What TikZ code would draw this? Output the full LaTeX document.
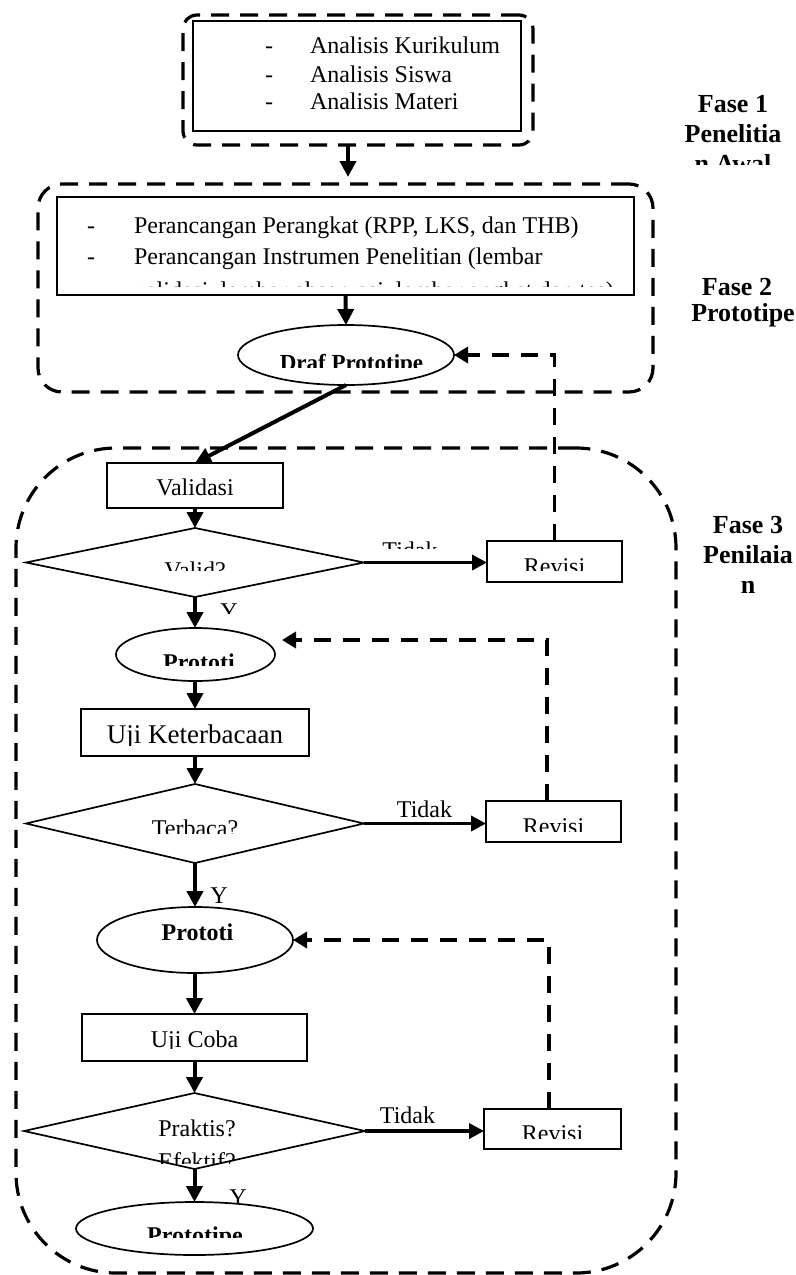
\documentclass[tikz,border=0pt]{standalone}
\usepackage{fontspec}
\setmainfont{Liberation Serif}
\usetikzlibrary{shapes.geometric,arrows.meta}
\begin{document}
\begin{tikzpicture}[x=0.5pt,y=-0.5pt,
  every node/.style={inner sep=0pt, outer sep=0pt},
  box/.style={draw, line width=0.85pt, fill=white},
  ell/.style={ellipse, draw, line width=0.85pt, fill=white},
  dec/.style={diamond, draw, line width=0.85pt, fill=white},
  phase/.style={draw, line width=1.6pt, dash pattern=on 9pt off 5.5pt},
  arr/.style={line width=2pt, -{Triangle[length=8pt,width=8pt]}},
  arrh/.style={line width=1.8pt, -{Triangle[length=7.5pt,width=7.5pt]}},
  fb/.style={line width=1.8pt, dash pattern=on 8.5pt off 6pt, -{Triangle[length=7pt,width=8pt]}},
  t12/.style={anchor=base, font=\fontsize{12}{14}\selectfont},
  b12/.style={anchor=base, font=\bfseries\fontsize{12}{14}\selectfont},
  lbl/.style={anchor=base, font=\bfseries\fontsize{13}{15}\selectfont}]
\fill[white] (0,0) rectangle (796,1275);
\useasboundingbox (0,0) rectangle (796,1275);

% phase frames
\node[phase, rounded corners=7pt, minimum width=175pt, minimum height=65pt] (ph1) at (358,80) {};
\node[phase, rounded corners=12pt, minimum width=307.5pt, minimum height=104pt] (ph2) at (345.5,288) {};
\node[phase, rounded corners=50pt, minimum width=330pt, minimum height=412.5pt] (ph3) at (346,860.5) {};

% phase 1
\node[box, minimum width=164pt, minimum height=55pt] (f1in) at (357,76) {};
\node[t12, anchor=base west] (d11) at (265,53) {-};
\node[t12, anchor=base west] (t11) at (310,53) {Analisis Kurikulum};
\node[t12, anchor=base west] (d12) at (265,82) {-};
\node[t12, anchor=base west] (t12a) at (310,82) {Analisis Siswa};
\node[t12, anchor=base west] (d13) at (265,109) {-};
\node[t12, anchor=base west] (t13) at (310,109) {Analisis Materi};
\coordinate (a1end) at (348,177);
\draw[arr] (ph1.south -| a1end) -- (a1end);

% phase 2
\node[box, minimum width=288.5pt, minimum height=49pt] (f2in) at (345.5,246) {};
\node[t12, anchor=base west] (d21) at (87,233) {-};
\node[t12, anchor=base west] (t21) at (134,233) {Perancangan Perangkat (RPP, LKS, dan THB)};
\node[t12, anchor=base west] (d22) at (87,264) {-};
\node[t12, anchor=base west] (t22) at (134,264) {Perancangan Instrumen Penelitian (lembar};
\begin{scope}
\clip (57,270) rectangle (634,286.5);
\node[t12, anchor=base west] (t23) at (134,298) {validasi, lembar observasi, lembar angket dan tes)};
\end{scope}
\node[ell, minimum width=108pt, minimum height=30pt] (draf) at (346,355) {};
\begin{scope}
\clip (238,330) rectangle (454,367);
\node[anchor=base, font=\bfseries\fontsize{11.5}{14}\selectfont] (tdraf) at (351.5,370) {Draf Prototipe};
\end{scope}
\draw[arr] (f2in.south) -- (draf.north);

% phase 3
\node[box, minimum width=88pt, minimum height=22.5pt] (val) at (195,485.5) {};
\node[t12] (tval) at (195,495) {Validasi};
\draw[arr] (draf.south) -- (val.north);

\node[dec, minimum width=169pt, minimum height=34.5pt] (d1) at (195,562.5) {};
\begin{scope}
\clip (25,540) rectangle (363,570);
\node[t12] (tv1) at (195,578) {Valid?};
\end{scope}
\draw[arr] (val.south) -- (d1.north);
\node[box, minimum width=67.5pt, minimum height=20.5pt] (rev1) at (554.5,561.5) {};
\begin{scope}
\clip (487,541) rectangle (622,570);
\node[t12] (trev1) at (554.5,574) {Revisi};
\end{scope}
\draw[arrh] (d1.east) -- (d1.east -| rev1.west);
\begin{scope}
\clip (370,530) rectangle (450,548.5);
\node[t12] (tt1) at (410,558) {Tidak};
\end{scope}
\begin{scope}
\clip (210,595) rectangle (250,613);
\node[t12] (ty1) at (229,619) {Y};
\end{scope}

\node[ell, minimum width=79.5pt, minimum height=26.5pt] (p1) at (195.5,654.5) {};
\begin{scope}
\clip (117,640) rectangle (276,665);
\node[b12] (tp1) at (199,670) {Prototi};
\end{scope}
\draw[arr] (d1.south) -- (d1.south |- p1.north);

\node[box, minimum width=114pt, minimum height=23.5pt] (uk) at (195,732.5) {};
\begin{scope}
\clip (81,709) rectangle (309,745.5);
\node[anchor=base, font=\fontsize{13.5}{16}\selectfont] (tuk) at (195,743) {Uji Keterbacaan};
\end{scope}
\draw[arr] (p1.south -| uk.north) -- (uk.north);

\node[dec, minimum width=169pt, minimum height=39.5pt] (d2) at (195,823.5) {};
\begin{scope}
\clip (25,800) rectangle (363,833);
\node[t12] (tv2) at (195,836) {Terbaca?};
\end{scope}
\draw[arr] (uk.south) -- (d2.north);
\node[box, minimum width=67.5pt, minimum height=20.5pt] (rev2) at (553.5,821.5) {};
\begin{scope}
\clip (486,801) rectangle (621,831);
\node[t12] (trev2) at (553.5,834) {Revisi};
\end{scope}
\draw[arrh] (d2.east) -- (d2.east -| rev2.west);
\node[t12] (tt2) at (424.5,817) {Tidak};
\node[t12] (ty2) at (219,903) {Y};

\node[ell, minimum width=98pt, minimum height=33pt] (p2) at (195,940) {};
\node[b12] (tp2) at (197.5,940) {Prototi};
\draw[arr] (d2.south) -- (p2.north);

\node[box, minimum width=112.5pt, minimum height=23.5pt] (uc) at (194.5,1037.5) {};
\begin{scope}
\clip (81,1014) rectangle (306,1048.5);
\node[t12] (tuc) at (194.5,1047) {Uji Coba};
\end{scope}
\draw[arr] (p2.south -| uc.north) -- (uc.north);

\node[dec, minimum width=170.5pt, minimum height=38pt] (d3) at (194.5,1131) {};
\node[t12] (tv3) at (197,1136) {Praktis?};
\begin{scope}
\clip (21,1140) rectangle (362,1163);
\node[t12] (tv3b) at (197,1169) {Efektif?};
\end{scope}
\draw[arr] (uc.south) -- (d3.north);
\node[box, minimum width=68.5pt, minimum height=20pt] (rev3) at (552.5,1129) {};
\begin{scope}
\clip (484,1109) rectangle (621,1138);
\node[t12] (trev3) at (552.5,1141) {Revisi};
\end{scope}
\draw[arrh] (d3.east) -- (d3.east -| rev3.west);
\node[t12] (tt3) at (407.5,1123) {Tidak};
\node[t12] (ty3) at (238,1205) {Y};

\node[ell, minimum width=118.5pt, minimum height=26.5pt] (p3) at (194.5,1228.5) {};
\begin{scope}
\clip (76,1210) rectangle (313,1237);
\node[b12] (tp3) at (195,1243) {Prototipe};
\end{scope}
\draw[arr] (d3.south) -- (d3.south |- p3.north);

% feedback loops
\draw[fb] (rev1.north) |- (draf.east);
\coordinate (r2top) at (547,801);
\coordinate (t1) at (282,640);
\draw[fb] (r2top) |- (t1);
\coordinate (r3top) at (549,1109);
\draw[fb] (r3top) |- (p2.east);

% phase labels
\node[lbl] (l11) at (733,112) {Fase 1};
\node[lbl] (l12) at (733,142) {Penelitia};
\begin{scope}
\clip (680,145) rectangle (796,164);
\node[lbl] (l13) at (733,172) {n Awal};
\end{scope}
\node[lbl] (l21) at (737,295) {Fase 2};
\node[lbl] (l22) at (743,321) {Prototipe};
\node[lbl] (l31) at (748,533) {Fase 3};
\node[lbl] (l32) at (748,563) {Penilaia};
\node[lbl] (l33) at (748,593) {n};
\end{tikzpicture}
\end{document}
